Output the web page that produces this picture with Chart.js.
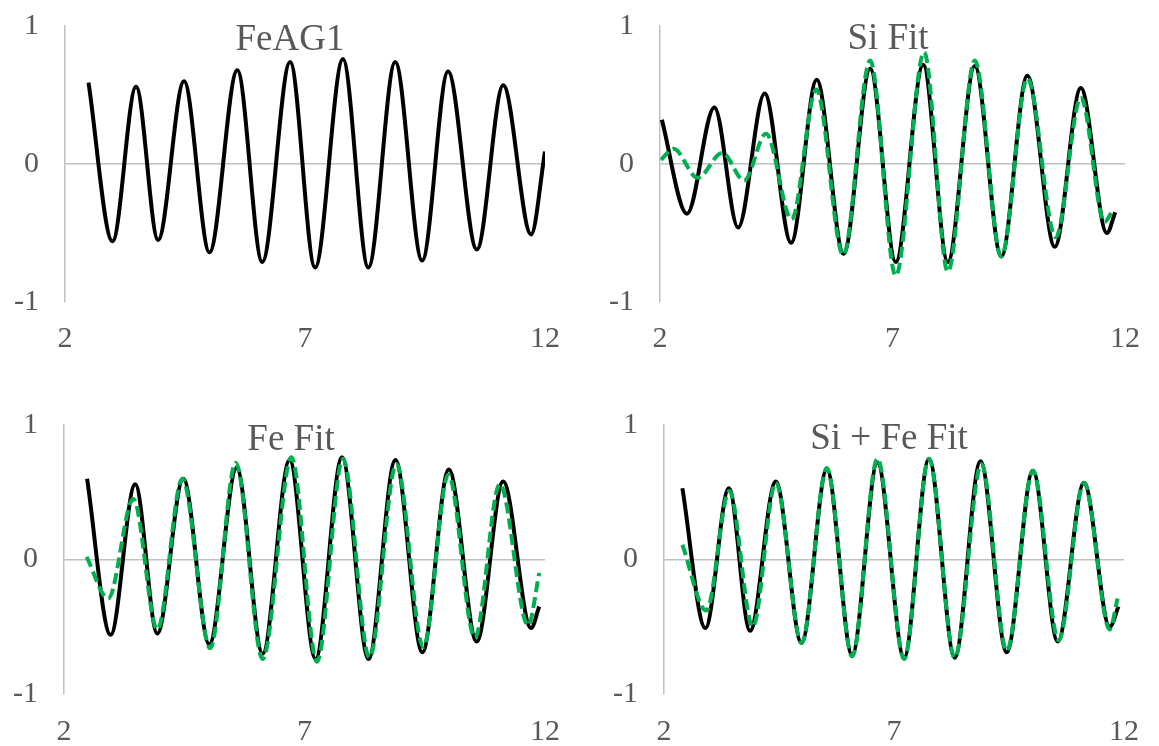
<!DOCTYPE html>
<html>
<head>
<meta charset="utf-8">
<script src="https://cdn.jsdelivr.net/npm/chart.js@4/dist/chart.umd.min.js"></script>
<style>
  html, body { margin: 0; padding: 0; background: #fff; }
  #wrap { position: relative; width: 1159px; height: 746px; }
  canvas { position: absolute; }
</style>
</head>
<body>
<div id="wrap">
  <canvas id="c1" width="580" height="373" style="left:0;top:0"></canvas>
  <canvas id="c2" width="579" height="373" style="left:580px;top:0"></canvas>
  <canvas id="c3" width="580" height="373" style="left:0;top:373px"></canvas>
  <canvas id="c4" width="579" height="373" style="left:580px;top:373px"></canvas>
</div>
<script>
// values (extrema of each oscillation + end points)
const xTicks = [2, 7, 12];
const yTicks = [-1, 0, 1];
const titles = ['FeAG1', 'Si Fit', 'Fe Fit', 'Si + Fe Fit'];

const feag1X = [2.49, 2.99, 3.48, 3.94, 4.48, 5.01, 5.59, 6.11, 6.69, 7.21, 7.79, 8.32, 8.88, 9.44, 9.98, 10.58, 11.13, 11.71, 12.0];
const feag1Y = [0.59, -0.56, 0.56, -0.55, 0.60, -0.64, 0.68, -0.71, 0.74, -0.75, 0.76, -0.75, 0.74, -0.70, 0.67, -0.62, 0.57, -0.51, 0.09];

const siDataX = [2.04, 2.58, 3.17, 3.68, 4.25, 4.82, 5.37, 5.95, 6.52, 7.07, 7.66, 8.19, 8.77, 9.34, 9.90, 10.49, 11.05, 11.61, 11.79];
const siDataY = [0.32, -0.36, 0.41, -0.46, 0.51, -0.57, 0.61, -0.65, 0.69, -0.71, 0.72, -0.71, 0.71, -0.67, 0.64, -0.60, 0.55, -0.50, -0.35];
const siFitX = [2.02, 2.29, 2.81, 3.34, 3.81, 4.28, 4.83, 5.36, 5.94, 6.52, 7.07, 7.68, 8.19, 8.77, 9.34, 9.90, 10.51, 11.05, 11.56, 11.74];
const siFitY = [0.03, 0.11, -0.10, 0.08, -0.12, 0.22, -0.40, 0.54, -0.66, 0.75, -0.81, 0.81, -0.78, 0.75, -0.67, 0.62, -0.53, 0.48, -0.42, -0.33];

const feDataX = [2.48, 2.97, 3.48, 3.94, 4.48, 5.02, 5.59, 6.13, 6.69, 7.23, 7.78, 8.33, 8.89, 9.45, 10.00, 10.58, 11.13, 11.71, 11.88];
const feDataY = [0.60, -0.56, 0.56, -0.55, 0.60, -0.63, 0.68, -0.70, 0.74, -0.74, 0.76, -0.74, 0.74, -0.69, 0.67, -0.61, 0.58, -0.51, -0.35];
const feFitX = [2.47, 2.92, 3.44, 3.94, 4.46, 5.04, 5.57, 6.13, 6.73, 7.26, 7.80, 8.35, 8.91, 9.47, 9.99, 10.54, 11.06, 11.65, 11.88];
const feFitY = [0.02, -0.29, 0.45, -0.52, 0.60, -0.66, 0.72, -0.74, 0.76, -0.76, 0.75, -0.73, 0.71, -0.65, 0.63, -0.58, 0.56, -0.49, -0.10];

const bothDataX = [2.40, 2.90, 3.41, 3.87, 4.43, 4.99, 5.54, 6.09, 6.64, 7.22, 7.76, 8.32, 8.88, 9.45, 10.02, 10.56, 11.13, 11.69, 11.88];
const bothDataY = [0.53, -0.51, 0.53, -0.53, 0.58, -0.62, 0.67, -0.71, 0.72, -0.73, 0.75, -0.73, 0.73, -0.69, 0.66, -0.61, 0.57, -0.50, -0.35];
const bothFitX = [2.40, 2.92, 3.42, 3.93, 4.43, 4.99, 5.54, 6.09, 6.64, 7.22, 7.76, 8.32, 8.90, 9.45, 10.02, 10.58, 11.13, 11.69, 11.86];
const bothFitY = [0.11, -0.38, 0.51, -0.50, 0.57, -0.62, 0.68, -0.72, 0.75, -0.74, 0.75, -0.73, 0.71, -0.68, 0.66, -0.60, 0.57, -0.52, -0.29];

const pts = (xs, ys) => xs.map((x, i) => ({ x: x, y: ys[i] }));

const GRAY = '#595959';
const AXIS = '#c0c0c0';
const FONT = "'Liberation Serif', 'Times New Roman', serif";

// title drawn inside the plot area, like the original
const titlePlugin = {
    id: 'panelTitle',
    afterDraw(chart, args, opts) {
        const ctx = chart.ctx;
        ctx.save();
        ctx.font = '37px ' + FONT;
        ctx.fillStyle = GRAY;
        ctx.textAlign = 'center';
        ctx.textBaseline = 'alphabetic';
        ctx.fillText(opts.text, opts.x, opts.y);
        ctx.restore();
    }
};

function makePanel(id, title, black, green, geo) {
    const datasets = [];
    if (green) {
        datasets.push({
            data: green,
            borderColor: '#00b050',
            borderWidth: 4,
            borderDash: [11, 5],
            pointRadius: 0,
            cubicInterpolationMode: 'monotone',
            order: 0
        });
    }
    datasets.push({
        data: black,
        borderColor: '#000000',
        borderWidth: 4,
        pointRadius: 0,
        cubicInterpolationMode: 'monotone',
        order: 1
    });

    new Chart(document.getElementById(id), {
        type: 'line',
        data: { datasets: datasets },
        plugins: [titlePlugin],
        options: {
            responsive: false,
            animation: false,
            devicePixelRatio: 1,
            layout: { padding: { left: 0, right: geo.padR, top: geo.padT, bottom: 0 } },
            plugins: {
                legend: { display: false },
                tooltip: { enabled: false },
                panelTitle: { text: title, x: geo.tx, y: geo.ty }
            },
            scales: {
                x: {
                    type: 'linear',
                    min: 2,
                    max: 12,
                    afterBuildTicks: s => { s.ticks = xTicks.map(v => ({ value: v })); },
                    afterFit: s => { s.height = geo.xH; },
                    grid: { display: false, drawTicks: false },
                    border: { display: false },
                    ticks: { color: GRAY, font: { family: FONT, size: 30 }, padding: geo.xPad, maxRotation: 0 }
                },
                y: {
                    min: -1,
                    max: 1,
                    afterBuildTicks: s => { s.ticks = yTicks.map(v => ({ value: v })); },
                    afterFit: s => {
                        s.width = geo.yW;
                        // don't let the label padding push the plot area down
                        s.paddingTop = 0;
                        s.paddingBottom = 0;
                    },
                    grid: {
                        drawTicks: false,
                        lineWidth: 1.5,
                        color: c => (c.tick && c.tick.value === 0) ? AXIS : 'rgba(0,0,0,0)'
                    },
                    border: { display: true, color: AXIS, width: 1.5 },
                    ticks: { color: GRAY, font: { family: FONT, size: 30 }, padding: 26 }
                }
            }
        }
    });
}

makePanel('c1', titles[0], pts(feag1X, feag1Y), null,
    { yW: 65, padR: 35, padT: 26, xH: 71, xPad: 19, tx: 290, ty: 50 });
makePanel('c2', titles[1], pts(siDataX, siDataY), pts(siFitX, siFitY),
    { yW: 80, padR: 19, padT: 26, xH: 71, xPad: 19, tx: 308, ty: 49 });
makePanel('c3', titles[2], pts(feDataX, feDataY), pts(feFitX, feFitY),
    { yW: 64, padR: 34, padT: 52, xH: 52, xPad: 20, tx: 291, ty: 77 });
makePanel('c4', titles[3], pts(bothDataX, bothDataY), pts(bothFitX, bothFitY),
    { yW: 84, padR: 17, padT: 52, xH: 52, xPad: 20, tx: 309, ty: 76 });
</script>
</body>
</html>
